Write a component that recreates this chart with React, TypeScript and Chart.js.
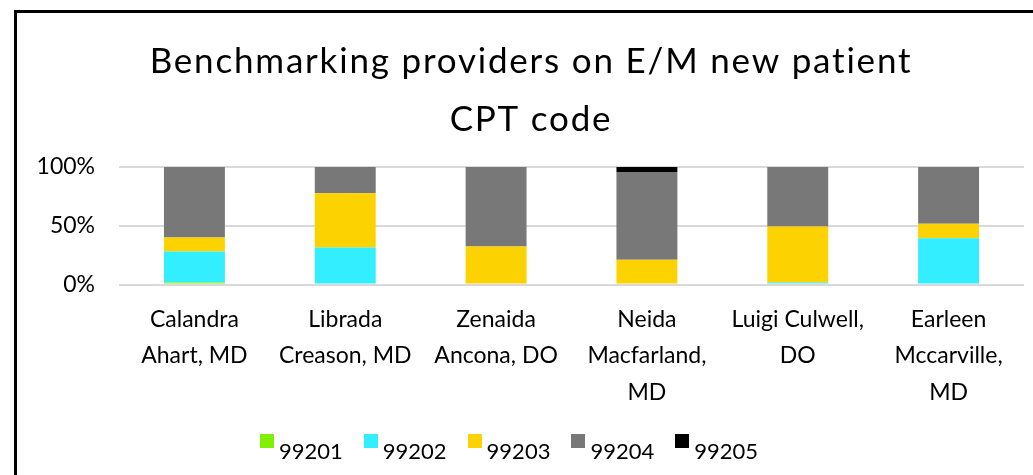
import React, { useEffect, useRef } from "react";
import { Chart, registerables } from "chart.js";

Chart.register(...registerables);

const categories: string[][] = [
  ["Calandra", "Ahart, MD"],
  ["Librada", "Creason, MD"],
  ["Zenaida", "Ancona, DO"],
  ["Neida", "Macfarland,", "MD"],
  ["Luigi Culwell,", "DO"],
  ["Earleen", "Mccarville,", "MD"],
];

const seriesNames = ["99201", "99202", "99203", "99204", "99205"];
const v99201 = [1.7, 0, 0, 0, 0, 0];
const v99202 = [26.3, 31.4, 0, 0, 1.7, 39.3];
const v99203 = [12.0, 46.3, 32.3, 21.1, 47.7, 12.5];
const v99204 = [60.0, 22.3, 67.7, 74.6, 50.6, 48.2];
const v99205 = [0, 0, 0, 4.3, 0, 0];
const seriesValues = [v99201, v99202, v99203, v99204, v99205];
const seriesColors = ["#80F000", "#33EEFF", "#FCD200", "#787878", "#000000"];

const titleLines = ["Benchmarking providers on E/M new patient", "CPT code"];
const yTicks = [0, 50, 100];

const FONT = "Lato, 'Noto Sans', sans-serif";

function legendSwatch(color: string): HTMLCanvasElement {
  const c = document.createElement("canvas");
  c.width = 14;
  c.height = 35;
  const g = c.getContext("2d")!;
  g.fillStyle = color;
  g.fillRect(0, 0, 14, 14);
  return c;
}

export default function App() {
  const ref = useRef<HTMLCanvasElement | null>(null);

  useEffect(() => {
    if (!ref.current) return;
    const swatches = seriesColors.map(legendSwatch);
    const titleTweak = {
      id: "titleTweak",
      afterLayout(chart: any) {
        const t = chart.titleBlock;
        if (!t) return;
        t.left = 38;
        t.right = 1024;
        if (!t._spaced) {
          const orig = t.draw;
          t.draw = function (...args: any[]) {
            const ctx = chart.ctx;
            ctx.save();
            ctx.letterSpacing = "1.8px";
            orig.apply(this, args);
            ctx.restore();
          };
          t._spaced = true;
        }
      },
    };
    const chart = new Chart(ref.current, {
      type: "bar",
      data: {
        labels: categories,
        datasets: seriesNames.map((name, i) => ({
          label: name,
          data: seriesValues[i],
          backgroundColor: seriesColors[i],
          borderWidth: 0,
          pointStyle: swatches[i] as any,
          barPercentage: 0.404,
          categoryPercentage: 1.0,
        })),
      },
      plugins: [titleTweak],
      options: {
        animation: false,
        responsive: false,
        layout: { padding: { left: 0, right: 9, top: 0, bottom: 2.5 } },
        plugins: {
          title: {
            display: true,
            text: titleLines,
            color: "#000",
            font: { family: FONT, size: 35, weight: "normal", lineHeight: 58 / 35 },
            padding: { top: 33, bottom: 18 },
          },
          legend: {
            position: "bottom",
            labels: {
              usePointStyle: true,
              pointStyleWidth: 2,
              color: "#000",
              font: { family: FONT, size: 22 },
              padding: 27,
            },
          },
          tooltip: { enabled: false },
        },
        scales: {
          x: {
            stacked: true,
            grid: { display: false },
            border: { display: false },
            ticks: {
              color: "#000",
              font: { family: FONT, size: 23, lineHeight: 1.59 },
              maxRotation: 0,
              autoSkip: false,
              padding: 8.5,
            },
            afterFit: (s: any) => {
              s.height = 129;
            },
          },
          y: {
            stacked: true,
            min: 0,
            max: 100,
            grid: { color: "#d9d9d9", lineWidth: 2, drawTicks: false },
            border: { display: false },
            afterBuildTicks: (s: any) => {
              s.ticks = yTicks.map((v) => ({ value: v }));
            },
            ticks: {
              color: "#000",
              font: { family: FONT, size: 23 },
              padding: 24,
              callback: (v: any) => `${v}%`,
            },
            afterFit: (s: any) => {
              s.width = 119;
            },
          },
        },
      },
    });
    return () => chart.destroy();
  }, []);

  return (
    <div
      style={{
        position: "fixed",
        left: 0,
        top: 0,
        width: 1033,
        height: 475,
        overflow: "hidden",
        background: "#fff",
      }}
    >
      <div
        style={{
          position: "absolute",
          left: 14,
          top: 10,
          width: 1100,
          height: 600,
          borderLeft: "3px solid #000",
          borderTop: "3px solid #000",
        }}
      />
      <canvas
        ref={ref}
        width={1033}
        height={475}
        style={{ position: "absolute", left: 0, top: 0, width: 1033, height: 475 }}
      />
    </div>
  );
}
